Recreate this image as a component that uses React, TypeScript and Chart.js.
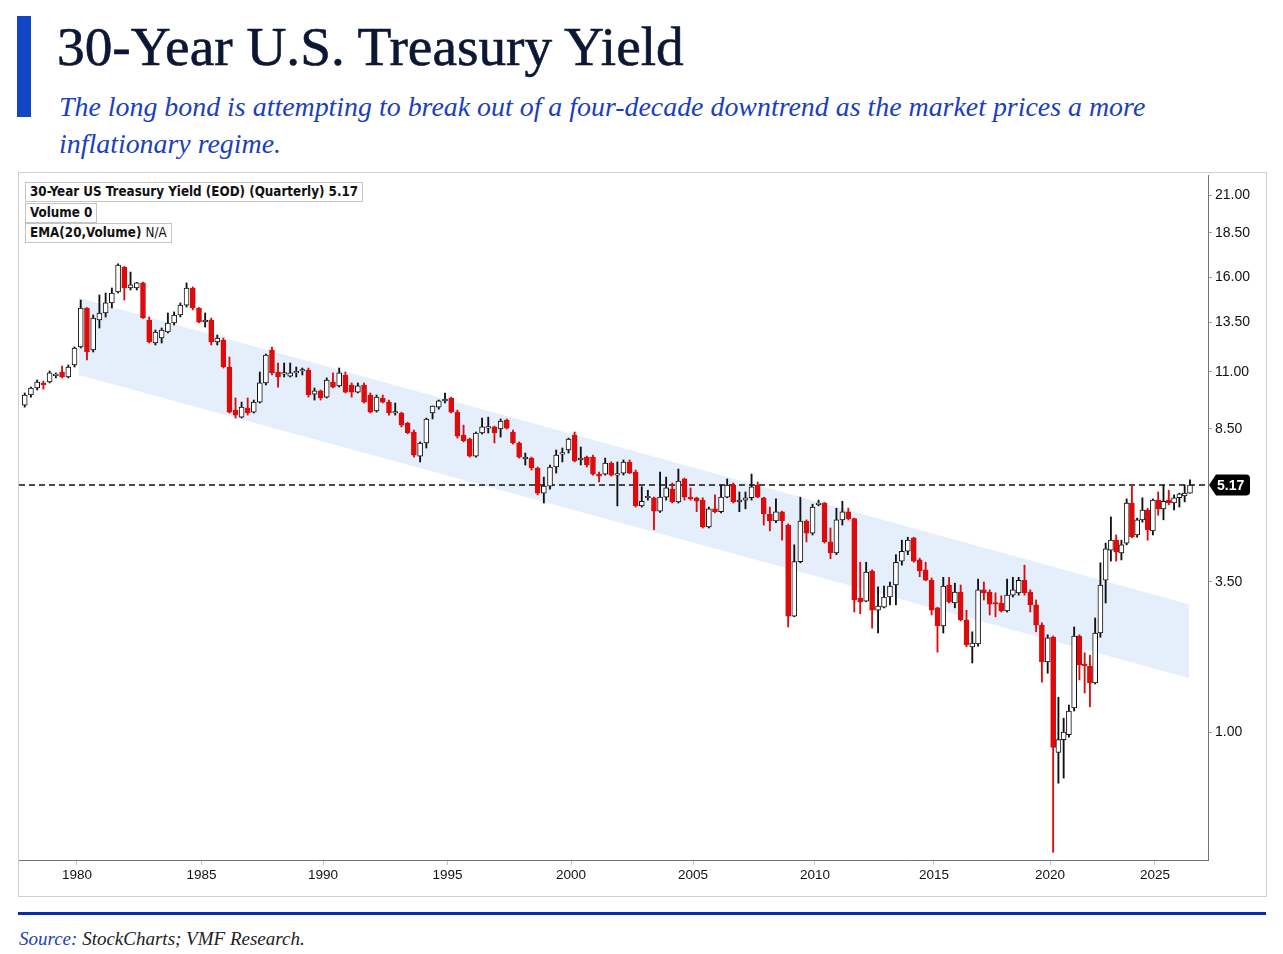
import React, { useEffect, useRef } from 'react';
import { Chart, LinearScale, registerables } from 'chart.js';

Chart.register(...registerables);

// quarterly candles, first bar is 1977 Q4
const FIRST_YEAR = 1977;
const FIRST_QUARTER = 4;

const OPEN = [
  9.55,
  9.99, 10.3, 10.52, 10.56, // 1978
  10.84, 11.0, 10.78, 11.35,
  12.25, 14.28, 12.1, 13.61, // 1980
  14.0, 14.56, 15.17, 16.57,
  15.39, 15.39, 15.67, 13.61,
  12.45, 12.7, 13.0, 13.45,
  13.89, 14.44, 15.39, 14.28,
  13.5, 13.61, 12.5, 12.6, // 1985
  11.25, 9.33, 9.02, 9.42,
  9.24, 9.68, 10.52, 12.1,
  11.0, 10.91, 10.82, 10.96,
  11.05, 11.1, 10.03, 10.17,
  9.9, 10.56, 10.39, 10.87, // 1990
  10.43, 10.12, 10.43, 9.99,
  9.29, 9.86, 9.68, 9.2,
  9.2, 8.76, 8.32, 6.89,
  7.67, 9.2, 9.46, 9.73,
  9.86, 9.24, 8.14, 7.9, // 1995
  6.89, 8.26, 8.54, 8.59,
  8.5, 8.89, 8.32, 7.67,
  6.72, 6.77, 6.18, 5.03,
  5.15, 6.24, 7.01, 7.25,
  8.14, 6.66, 6.83, 6.83, // 2000
  5.82, 5.82, 6.48, 5.76,
  5.88, 6.54, 5.94, 4.81,
  4.95, 4.95, 4.72, 4.96,
  5.1, 4.88, 5.53, 4.96,
  4.95, 4.91, 4.45, 4.76, // 2005
  4.71, 4.96, 5.17, 4.88,
  4.91, 4.95, 5.17, 4.95,
  4.67, 4.55, 4.71, 4.48,
  2.93, 3.85, 4.55, 4.34,
  4.83, 4.86, 4.19, 4.0, // 2010
  4.57, 4.71, 4.59, 3.23,
  3.18, 3.69, 3.03, 3.08,
  3.25, 3.45, 3.86, 4.03,
  4.26, 3.88, 3.71, 3.53,
  3.07, 2.77, 3.45, 3.15, // 2015
  3.33, 2.87, 2.42, 2.47,
  3.37, 3.33, 3.15, 3.15,
  3.02, 3.28, 3.32, 3.53,
  3.33, 3.12, 2.78, 2.17,
  2.58, 0.92, 0.97, 0.99, // 2020
  1.4, 2.6, 2.13, 2.1,
  1.82, 2.65, 3.53, 4.05,
  4.22, 4.0, 4.17, 4.86,
  4.31, 4.57, 4.74, 4.38,
  4.91, 4.76, 4.91, 4.86, // 2025
  4.95, 4.98, 5.03,
];

const HIGH = [
  10.08,
  10.34, 10.65, 10.6, 11.05,
  10.96, 11.3, 11.35, 12.25,
  14.72, 14.3, 13.89, 15.0,
  15.11, 15.39, 16.75, 16.6,
  16.28, 15.7, 15.72, 13.78,
  13.1, 13.2, 14.0, 14.06,
  14.56, 15.67, 15.45, 14.3,
  14.0, 13.72, 12.85, 12.7,
  11.75, 9.86, 9.68, 9.86,
  9.77, 11.0, 11.9, 12.25,
  11.45, 11.45, 11.45, 11.25,
  11.2, 11.2, 10.3, 10.21,
  10.74, 10.96, 11.2, 11.0,
  10.52, 10.52, 10.52, 10.08,
  9.99, 9.99, 9.77, 9.64,
  9.24, 8.8, 8.44, 7.73,
  8.98, 9.51, 9.77, 10.08,
  9.9, 9.33, 8.67, 7.96,
  8.32, 8.98, 9.02, 8.63,
  8.94, 8.94, 8.44, 7.73,
  7.07, 6.83, 6.24, 5.64,
  6.36, 7.25, 7.37, 7.96,
  8.32, 7.43, 6.89, 6.95,
  5.94, 6.77, 6.55, 6.54,
  6.66, 6.66, 6.06, 5.14,
  5.08, 4.96, 5.94, 5.64,
  5.29, 6.12, 5.58, 5.12,
  4.96, 4.95, 4.79, 5.0,
  5.17, 5.53, 5.29, 5.05,
  5.05, 5.82, 5.35, 4.96,
  4.79, 4.93, 4.72, 4.5,
  4.14, 4.96, 4.57, 4.84,
  4.91, 4.87, 4.43, 4.77,
  4.89, 4.77, 4.6, 3.84,
  3.84, 3.71, 3.42, 3.43,
  3.5, 3.97, 4.22, 4.27,
  4.27, 3.91, 3.84, 3.57,
  3.08, 3.58, 3.58, 3.48,
  3.45, 3.03, 2.67, 3.55,
  3.5, 3.37, 3.32, 3.27,
  3.55, 3.58, 3.58, 3.79,
  3.37, 3.2, 2.82, 2.62,
  2.6, 1.58, 1.23, 1.45,
  2.75, 2.62, 2.32, 2.28,
  2.9, 3.83, 4.17, 4.62,
  4.31, 4.22, 4.93, 5.17,
  4.6, 4.95, 4.77, 4.93,
  5.05, 5.17, 5.08, 5.0,
  5.03, 5.17, 5.47,
];

const LOW = [
  9.46,
  9.9, 10.21, 10.25, 10.52,
  10.74, 10.74, 10.74, 11.25,
  12.2, 11.6, 12.0, 13.2,
  13.78, 14.28, 15.11, 14.72,
  15.28, 15.28, 13.7, 12.45,
  12.35, 12.45, 12.95, 13.35,
  13.78, 14.33, 14.17, 13.45,
  13.25, 12.35, 12.35, 11.2,
  9.2, 8.98, 8.98, 9.11,
  9.2, 9.64, 10.43, 10.87,
  10.34, 10.78, 10.78, 10.78,
  10.87, 9.9, 9.77, 9.77,
  9.86, 10.3, 10.34, 10.08,
  9.9, 10.08, 9.64, 9.2,
  9.24, 9.64, 9.11, 9.11,
  8.59, 8.22, 6.83, 6.54,
  7.37, 8.94, 9.37, 9.64,
  9.2, 7.96, 7.73, 6.83,
  6.83, 8.2, 8.26, 7.67,
  8.02, 8.5, 7.6, 6.77,
  6.36, 6.06, 5.0, 4.86,
  5.1, 5.88, 6.54, 7.07,
  6.54, 6.36, 6.24, 5.76,
  5.35, 5.76, 5.7, 4.81,
  5.76, 5.85, 4.79, 4.79,
  4.91, 4.4, 4.7, 4.91,
  4.86, 4.86, 4.91, 4.91,
  4.71, 4.43, 4.43, 4.69,
  4.69, 4.95, 4.86, 4.71,
  4.76, 4.91, 4.95, 4.48,
  4.38, 4.52, 4.22, 2.75,
  2.92, 3.83, 4.19, 4.31,
  4.81, 4.17, 3.9, 3.97,
  4.48, 4.57, 3.0, 2.97,
  3.17, 2.73, 2.65, 3.07,
  3.12, 3.12, 3.79, 3.97,
  3.84, 3.59, 3.52, 2.95,
  2.33, 2.65, 3.15, 3.07,
  2.85, 2.42, 2.15, 2.43,
  3.2, 2.95, 2.92, 3.0,
  3.0, 3.25, 3.28, 3.28,
  3.0, 2.67, 1.83, 1.98,
  0.53, 0.8, 0.82, 0.98,
  1.35, 1.87, 1.65, 1.42,
  1.8, 2.58, 3.15, 3.86,
  3.86, 3.88, 4.14, 4.26,
  4.27, 4.53, 4.22, 4.31,
  4.65, 4.57, 4.83, 4.74,
  4.79, 4.88, 5.03,
];

const CLOSE = [
  9.99,
  10.3, 10.56, 10.43, 10.96,
  10.87, 10.78, 11.25, 12.2,
  14.28, 12.0, 13.72, 14.0,
  14.56, 15.11, 16.68, 15.39,
  15.56, 15.67, 13.72, 12.5,
  13.0, 13.1, 13.45, 13.89,
  14.44, 15.39, 14.28, 13.5,
  13.61, 12.5, 12.7, 11.25,
  9.24, 9.11, 9.46, 9.2,
  9.68, 10.52, 11.85, 10.96,
  10.78, 10.96, 10.96, 11.0,
  11.1, 9.99, 10.17, 9.86,
  10.65, 10.34, 10.96, 10.12,
  10.12, 10.39, 9.68, 9.24,
  9.9, 9.68, 9.2, 9.24,
  8.67, 8.26, 6.95, 7.67,
  8.94, 9.51, 9.73, 9.81,
  9.24, 8.08, 7.79, 6.89,
  8.26, 8.59, 8.59, 8.26,
  8.85, 8.54, 7.67, 6.83,
  6.83, 6.18, 5.03, 5.15,
  6.24, 6.95, 7.07, 7.9,
  6.6, 6.77, 6.36, 5.82,
  5.7, 6.48, 5.76, 5.82,
  6.54, 5.88, 4.81, 4.89,
  4.96, 4.72, 4.96, 5.12,
  4.88, 5.41, 4.96, 4.93,
  4.89, 4.45, 4.76, 4.71,
  4.96, 5.17, 4.88, 4.91,
  4.95, 5.14, 4.96, 4.67,
  4.55, 4.71, 4.55, 2.93,
  3.85, 4.55, 4.34, 4.79,
  4.86, 4.19, 4.0, 4.57,
  4.71, 4.59, 3.2, 3.17,
  3.67, 3.03, 3.1, 3.25,
  3.43, 3.84, 4.03, 4.22,
  3.86, 3.69, 3.53, 3.03,
  2.77, 3.43, 3.17, 3.33,
  2.87, 2.45, 2.48, 3.37,
  3.32, 3.13, 3.13, 3.02,
  3.28, 3.37, 3.53, 3.32,
  3.12, 2.78, 2.17, 2.57,
  0.94, 0.97, 1.0, 1.35,
  2.6, 2.12, 2.1, 1.82,
  2.65, 3.45, 4.07, 4.22,
  4.02, 4.14, 4.86, 4.28,
  4.57, 4.74, 4.4, 4.91,
  4.76, 4.89, 4.86, 4.95,
  5.02, 5.03, 5.17,
];

const LAST_VALUE = 5.17;

// downtrend channel drawn from 1980 to mid-2026
const CHANNEL_X = [1980.08, 2026.6];
const CHANNEL_TOP = [14.83, 3.13];
const CHANNEL_BOTTOM = [10.87, 1.9];

const X_TICKS = [1980, 1985, 1990, 1995, 2000, 2005, 2010, 2015, 2020, 2025];
const Y_TICKS = [1, 3.5, 8.5, 11, 13.5, 16, 18.5, 21];

// the source axes are not evenly spaced, so both scales follow the label spacing
const AXIS_ANCHORS: Record<string, { values: number[]; stops: number[] }> = {
  x: {
    values: [1977.67, 1980, 1985, 1990, 1995, 2000, 2005, 2010, 2015, 2020, 2025, 2027.5],
    stops: [0, 0.04878, 0.15349, 0.25568, 0.36039, 0.46426, 0.56687, 0.66947, 0.76955, 0.86712, 0.95542, 1],
  },
  y: {
    values: [0.5, 1, 3.5, 5.17, 8.5, 11, 13.5, 16, 18.5, 21, 22.25],
    stops: [0, 0.18686, 0.40584, 0.54745, 0.6292, 0.71241, 0.7854, 0.85109, 0.91533, 0.9708, 1],
  },
};
const AXIS_TICKS: Record<string, number[]> = { x: X_TICKS, y: Y_TICKS };

const RED = '#dc0c0c';
const INK = '#111';
const SERIF = '"Liberation Serif", "Times New Roman", serif';
const NARROW = '"Liberation Sans Narrow", "DejaVu Sans Condensed", "Liberation Sans", sans-serif';

function lookup(from: number[], to: number[], v: number) {
  let i = 1;
  while (i < from.length - 1 && v > from[i]) i++;
  const t = (v - from[i - 1]) / (from[i] - from[i - 1]);
  return to[i - 1] + t * (to[i] - to[i - 1]);
}

class AnchoredScale extends LinearScale {
  static id = 'anchored';

  buildTicks() {
    return AXIS_TICKS[this.id].map((value) => ({ value }));
  }

  getPixelForValue(value: number) {
    if (value === null || value === undefined || isNaN(value)) return NaN;
    const a = AXIS_ANCHORS[this.id];
    return this.getPixelForDecimal(lookup(a.values, a.stops, value));
  }

  getValueForPixel(pixel: number) {
    const a = AXIS_ANCHORS[this.id];
    return lookup(a.stops, a.values, this.getDecimalForPixel(pixel));
  }
}
Chart.register(AnchoredScale);

const lastValueTag = {
  id: 'lastValueTag',
  afterDraw(chart: any) {
    const { ctx, chartArea, scales } = chart;
    const y = scales.y.getPixelForValue(LAST_VALUE);
    const x = chartArea.right + 1;
    const h = 10.5;
    const w = 41;
    const r = 4;
    ctx.save();
    ctx.fillStyle = '#000';
    ctx.beginPath();
    ctx.moveTo(x, y);
    ctx.lineTo(x + 7, y - h);
    ctx.lineTo(x + w - r, y - h);
    ctx.arcTo(x + w, y - h, x + w, y - h + r, r);
    ctx.lineTo(x + w, y + h - r);
    ctx.arcTo(x + w, y + h, x + w - r, y + h, r);
    ctx.lineTo(x + 7, y + h);
    ctx.closePath();
    ctx.fill();
    ctx.fillStyle = '#fff';
    ctx.font = 'bold 14px "Liberation Sans", Arial, sans-serif';
    ctx.textBaseline = 'middle';
    ctx.fillText(LAST_VALUE.toFixed(2), x + 8, y + 1);
    ctx.restore();
  },
};

const TreasuryChart: React.FC = () => {
  const chartRef = useRef<HTMLCanvasElement>(null);

  useEffect(() => {
    if (!chartRef.current) return;
    const xs = OPEN.map((_, i) => FIRST_YEAR + (FIRST_QUARTER - 1 + i) / 4 + 0.15);
    const down = OPEN.map((o, i) => CLOSE[i] < o);
    const xMin = AXIS_ANCHORS.x.values[0];
    const xMax = AXIS_ANCHORS.x.values[AXIS_ANCHORS.x.values.length - 1];

    const chart = new Chart(chartRef.current, {
      type: 'bar',
      data: {
        datasets: [
          {
            label: 'body',
            data: xs.map((x, i) => ({ x, y: [OPEN[i], CLOSE[i]] })),
            backgroundColor: down.map((d) => (d ? RED : '#fff')),
            borderColor: down.map((d) => (d ? RED : INK)),
            borderWidth: 1,
            borderSkipped: false,
            barThickness: 5,
            minBarLength: 1.5,
            grouped: false,
            order: 1,
          },
          {
            label: 'wick',
            data: xs.map((x, i) => ({ x, y: [LOW[i], HIGH[i]] })),
            backgroundColor: down.map((d) => (d ? RED : INK)),
            borderWidth: 0,
            barThickness: 1.2,
            grouped: false,
            order: 2,
          },
          {
            type: 'line',
            label: 'last',
            data: [{ x: xMin, y: LAST_VALUE }, { x: xMax, y: LAST_VALUE }],
            borderColor: '#111',
            borderWidth: 1.3,
            borderDash: [6, 4],
            pointRadius: 0,
            order: 3,
          },
          {
            type: 'line',
            label: 'channel top',
            data: CHANNEL_X.map((x, i) => ({ x, y: CHANNEL_TOP[i] })),
            borderColor: 'rgba(0,0,0,0)',
            borderWidth: 0,
            pointRadius: 0,
            fill: false,
            order: 5,
          },
          {
            type: 'line',
            label: 'channel bottom',
            data: CHANNEL_X.map((x, i) => ({ x, y: CHANNEL_BOTTOM[i] })),
            borderColor: 'rgba(0,0,0,0)',
            backgroundColor: '#e5effb',
            borderWidth: 0,
            pointRadius: 0,
            fill: '-1',
            order: 4,
          },
        ] as any,
      },
      options: {
        animation: false,
        responsive: true,
        maintainAspectRatio: false,
        events: [],
        layout: { padding: { top: 2, left: 0, right: 0, bottom: 0 } },
        plugins: { legend: { display: false }, tooltip: { enabled: false } },
        scales: {
          x: {
            type: 'anchored' as any,
            position: 'bottom',
            min: xMin,
            max: xMax,
            offset: false,
            grid: { offset: false, drawOnChartArea: false, drawTicks: true, tickLength: 5, color: '#c9c9c9' },
            border: { display: true, color: '#6d7486', width: 1 },
            ticks: {
              autoSkip: false,
              maxRotation: 0,
              padding: 2,
              color: '#111',
              font: { family: '"Liberation Sans", Arial, sans-serif', size: 13.5 },
              callback: (v: any) => String(v),
            },
            afterFit: (s: any) => {
              s.height = 35;
              s.paddingLeft = 0;
              s.paddingRight = 0;
            },
          },
          y: {
            type: 'anchored' as any,
            position: 'right',
            min: AXIS_ANCHORS.y.values[0],
            max: AXIS_ANCHORS.y.values[AXIS_ANCHORS.y.values.length - 1],
            grid: { drawOnChartArea: false, drawTicks: true, tickLength: 4, color: '#9aa0aa' },
            border: { display: true, color: '#6d7486', width: 1 },
            ticks: {
              autoSkip: false,
              padding: 3,
              color: '#111',
              font: { family: '"Liberation Sans", Arial, sans-serif', size: 14 },
              callback: (v: any) => Number(v).toFixed(2),
            },
            afterFit: (s: any) => {
              s.width = 57;
              s.paddingTop = 0;
              s.paddingBottom = 0;
            },
          },
        },
      } as any,
      plugins: [lastValueTag],
    });

    return () => {
      chart.destroy();
    };
  }, []);

  return <canvas ref={chartRef} />;
};

const legendBox: React.CSSProperties = {
  position: 'absolute',
  left: 25,
  height: 20,
  boxSizing: 'border-box',
  border: '1px solid #c4c4c4',
  background: '#fff',
  padding: '0 4px',
  fontFamily: NARROW,
  fontWeight: 'bold',
  fontSize: 13.3,
  lineHeight: '18px',
  color: '#111',
  whiteSpace: 'nowrap',
};

export default function App() {
  return (
    <div style={{ position: 'absolute', left: 0, top: 0, width: 1283, height: 954, background: '#fff', overflow: 'hidden' }}>
      <div style={{ position: 'absolute', left: 17, top: 16, width: 14, height: 101, background: '#1246c4' }} />
      <div
        style={{
          position: 'absolute',
          left: 57,
          top: 20,
          fontFamily: SERIF,
          fontSize: 55.3,
          lineHeight: '54px',
          color: '#0c1733',
          WebkitTextStroke: '0.6px #0c1733',
          whiteSpace: 'nowrap',
        }}
      >
        30-Year U.S. Treasury Yield
      </div>
      <div
        style={{
          position: 'absolute',
          left: 59,
          top: 88,
          width: 1200,
          fontFamily: SERIF,
          fontStyle: 'italic',
          fontSize: 27.9,
          lineHeight: '37px',
          color: '#1a3fbf',
          whiteSpace: 'nowrap',
        }}
      >
        The long bond is attempting to break out of a four-decade downtrend as the market prices a more
        <br />
        inflationary regime.
      </div>

      <div
        style={{
          position: 'absolute',
          left: 18,
          top: 172,
          width: 1249,
          height: 725,
          boxSizing: 'border-box',
          border: '1px solid #cfcfcf',
        }}
      >
        <div style={{ position: 'absolute', left: 0, top: 0, width: 1246, height: 722 }}>
          <TreasuryChart />
        </div>
      </div>

      <div style={{ ...legendBox, top: 182 }}>30-Year US Treasury Yield (EOD) (Quarterly) 5.17</div>
      <div style={{ ...legendBox, top: 203 }}>Volume 0</div>
      <div style={{ ...legendBox, top: 223 }}>
        EMA(20,Volume) <span style={{ fontWeight: 'normal' }}>N/A</span>
      </div>

      <div style={{ position: 'absolute', left: 18, top: 912, width: 1248, height: 3, background: '#0a2db0' }} />
      <div
        style={{
          position: 'absolute',
          left: 19,
          top: 929,
          fontFamily: SERIF,
          fontStyle: 'italic',
          fontSize: 19,
          lineHeight: '19px',
          color: '#222',
          whiteSpace: 'nowrap',
        }}
      >
        <span style={{ color: '#1a3fbf' }}>Source:</span> StockCharts; VMF Research.
      </div>
    </div>
  );
}
